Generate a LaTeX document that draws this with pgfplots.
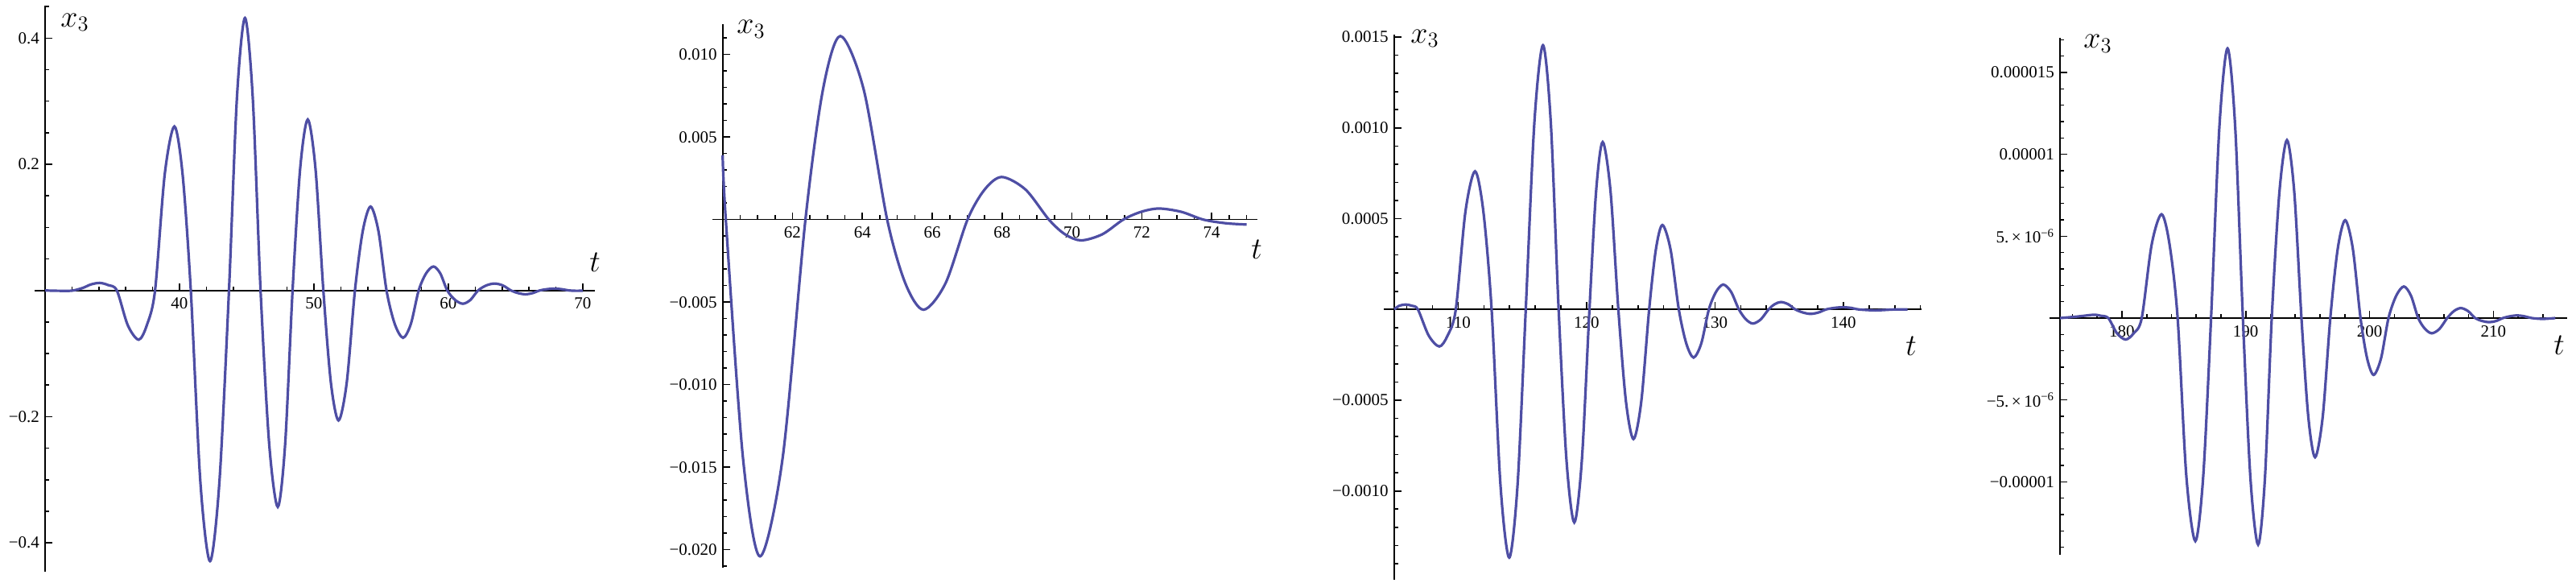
\RequirePackage{fix-cm}
\documentclass[border=0pt]{standalone}
\usepackage{fontspec}
\setmainfont{Liberation Serif}
\usepackage{pgfplots}
\pgfplotsset{compat=1.18}
\definecolor{curve}{RGB}{78,78,164}
\pgfplotsset{
  mstyle/.style={
    scale only axis,
    anchor=south west,
    axis x line=middle,
    axis y line=left,
    axis line style={-, line width=0.8pt, black},
    tick align=inside,
    major tick length=4.5pt,
    minor tick length=2.6pt,
    tick style={black, line width=0.8pt},
    tick label style={font=\fontsize{10.5}{12}\selectfont},
    xticklabel style={yshift=-1pt},
    /pgf/number format/assume math mode=true,
    scaled y ticks=false,
    scaled x ticks=false,
    clip=false,
  },
  cstyle/.style={color=curve, line width=1.6pt, smooth, no marks},
}
\begin{document}
\begin{tikzpicture}
\path[use as bounding box] (0,0) rectangle (1600pt,361.5pt);

% ---------------- Panel 1 ----------------
\begin{axis}[mstyle,
  at={(28pt,6.65pt)}, width=341.5pt, height=351.2pt,
  xmin=30, xmax=70.9, ymin=-0.4454, ymax=0.4511,
  xtick={40,50,60,70},
  minor xtick={32,34,...,70},
  ytick={-0.4,-0.2,0.2,0.4},
  yticklabels={−0.4,−0.2,0.2,0.4},
  minor ytick={-0.4,-0.35,-0.3,-0.25,-0.2,-0.15,-0.1,-0.05,0.05,0.1,0.15,0.2,0.25,0.3,0.35,0.4,0.45},
]
\addplot[cstyle] coordinates {
(30.0,0) (31.0,-0.0005) (32.0,-0.0003) (32.8,0.004) (33.4,0.0095) (34.06,0.012) (34.7,0.0085) (35.34,0)
(36.15,-0.055) (36.96,-0.078) (37.57,-0.055) (38.18,0)
(38.9,0.184) (39.62,0.260) (40.23,0.184) (40.84,0)
(41.55,-0.303) (42.27,-0.429) (42.97,-0.303) (43.68,0)
(44.27,0.305) (44.87,0.432) (45.45,0.305) (46.03,0)
(46.67,-0.243) (47.31,-0.343) (47.86,-0.243) (48.41,0)
(48.97,0.192) (49.54,0.271) (50.12,0.192) (50.70,0)
(51.26,-0.146) (51.83,-0.206) (52.44,-0.146) (53.05,0)
(53.63,0.094) (54.21,0.133) (54.80,0.094) (55.40,0)
(56.01,-0.053) (56.63,-0.075) (57.21,-0.053) (57.79,0)
(58.34,0.027) (58.89,0.038) (59.40,0.027) (59.92,0)
(60.50,-0.015) (61.08,-0.021) (61.64,-0.015) (62.21,0)
(62.82,0.008) (63.44,0.011) (64.05,0.008) (64.66,0)
(65.2,-0.0042) (65.73,-0.006) (66.26,-0.0042) (66.79,0)
(67.32,0.002) (67.86,0.003) (68.43,0.002) (69.0,0)
(69.5,-0.0005) (70.0,-0.0003)
};
\draw[line width=0.8pt] (axis cs:29.22,0) -- (axis cs:30,0);
\end{axis}

% ---------------- Panel 2 ----------------
\begin{axis}[mstyle,
  at={(448.85pt,9pt)}, width=332.15pt, height=337.5pt,
  xmin=60, xmax=75.31, ymin=-0.021088, ymax=0.011839,
  xtick={62,64,66,68,70,72,74},
  minor xtick={60.5,61,...,75},
  ytick={-0.020,-0.015,-0.010,-0.005,0.005,0.010},
  yticklabels={−0.020,−0.015,−0.010,−0.005,0.005,0.010},
  minor ytick={-0.021,-0.020,-0.019,-0.018,-0.017,-0.016,-0.015,-0.014,-0.013,-0.012,-0.011,-0.010,-0.009,-0.008,-0.007,-0.006,-0.005,-0.004,-0.003,-0.002,-0.001,0.001,0.002,0.003,0.004,0.005,0.006,0.007,0.008,0.009,0.010,0.011},
]
\addplot[cstyle] coordinates {
(60.00,0.0039) (60.09,0) (60.58,-0.0144) (61.07,-0.0204) (61.72,-0.0144) (62.37,0)
(62.87,0.00786) (63.37,0.01112) (64.04,0.00786) (64.71,0)
(65.23,-0.00386) (65.75,-0.00546) (66.38,-0.00386) (67.01,0)
(67.50,0.00182) (67.99,0.00258) (68.67,0.00182) (69.34,0)
(69.80,-0.00089) (70.26,-0.00126) (70.87,-0.00089) (71.47,0)
(71.98,0.00047) (72.49,0.00067) (73.13,0.00047) (73.76,0)
(74.4,-0.00022) (75.0,-0.0003)
};
\draw[line width=0.8pt] (axis cs:59.71,0) -- (axis cs:60,0);
\end{axis}

% ---------------- Panel 3 ----------------
\begin{axis}[mstyle,
  at={(865.85pt,1.5pt)}, width=327.45pt, height=338.65pt,
  xmin=105, xmax=146.06, ymin=-0.001489, ymax=0.001515,
  xtick={110,120,130,140},
  minor xtick={106,108,...,146},
  ytick={-0.0010,-0.0005,0.0005,0.0010,0.0015},
  yticklabels={−0.0010,−0.0005,0.0005,0.0010,0.0015},
  minor ytick={-0.0014,-0.0013,-0.0012,-0.0011,-0.0010,-0.0009,-0.0008,-0.0007,-0.0006,-0.0005,-0.0004,-0.0003,-0.0002,-0.0001,0.0001,0.0002,0.0003,0.0004,0.0005,0.0006,0.0007,0.0008,0.0009,0.0010,0.0011,0.0012,0.0013,0.0014,0.0015},
]
\addplot[cstyle] coordinates {
(105.0,0) (105.4,0.00002) (105.9,0.000027) (106.4,0.00002) (106.86,0)
(107.7,-0.000144) (108.53,-0.000204) (109.17,-0.000144) (109.81,0)
(110.56,0.000538) (111.31,0.000761) (111.96,0.000538) (112.60,0)
(113.29,-0.000967) (113.97,-0.001367) (114.62,-0.000967) (115.26,0)
(115.93,0.001029) (116.60,0.001455) (117.21,0.001029) (117.82,0)
(118.43,-0.000829) (119.04,-0.001173) (119.63,-0.000829) (120.22,0)
(120.74,0.000652) (121.25,0.000922) (121.86,0.000652) (122.47,0)
(123.06,-0.000505) (123.65,-0.000714) (124.26,-0.000505) (124.87,0)
(125.39,0.000329) (125.90,0.000465) (126.54,0.000329) (127.18,0)
(127.76,-0.000187) (128.33,-0.000265) (128.93,-0.000187) (129.52,0)
(130.08,0.000097) (130.64,0.000137) (131.25,0.000097) (131.86,0)
(132.41,-0.000055) (132.95,-0.0000776) (133.56,-0.000055) (134.17,0)
(134.65,0.000029) (135.13,0.0000408) (135.69,0.000029) (136.25,0)
(136.85,-0.000017) (137.44,-0.0000245) (138.05,-0.000017) (138.65,0)
(139.3,0.0000085) (139.94,0.000012) (140.6,0.0000085) (141.2,0)
(142.5,-0.000005) (144.0,0) (145.0,0)
};
\draw[line width=0.8pt] (axis cs:104.22,0) -- (axis cs:105,0);
\end{axis}

% ---------------- Panel 4 ----------------
\begin{axis}[mstyle,
  at={(1279.5pt,17pt)}, width=315.15pt, height=321.15pt,
  xmin=175, xmax=215.98, ymin=-1.446e-5, ymax=1.713e-5,
  xtick={180,190,200,210},
  minor xtick={176,178,...,216},
  ytick={-1e-5,-5e-6,5e-6,1e-5,1.5e-5},
  yticklabels={−0.00001,−5.\,×\,10\textsuperscript{−6},5.\,×\,10\textsuperscript{−6},0.00001,0.000015},
  minor ytick={-1.4e-5,-1.3e-5,-1.2e-5,-1.1e-5,-1e-5,-9e-6,-8e-6,-7e-6,-6e-6,-5e-6,-4e-6,-3e-6,-2e-6,-1e-6,1e-6,2e-6,3e-6,4e-6,5e-6,6e-6,7e-6,8e-6,9e-6,1e-5,1.1e-5,1.2e-5,1.3e-5,1.4e-5,1.5e-5,1.6e-5,1.7e-5},
]
\addplot[cstyle] coordinates {
(175,0) (176.5,1e-7) (177.7,2e-7) (178.3,1.4e-7) (178.9,0)
(179.6,-9.3e-7) (180.3,-1.31e-6) (180.95,-9.3e-7) (181.6,0)
(182.4,4.48e-6) (183.2,6.34e-6) (183.85,4.48e-6) (184.5,0)
(185.2,-9.63e-6) (185.93,-1.362e-5) (186.57,-9.63e-6) (187.2,0)
(187.87,1.165e-5) (188.53,1.647e-5) (189.15,1.165e-5) (189.77,0)
(190.38,-9.79e-6) (191.0,-1.384e-5) (191.55,-9.79e-6) (192.1,0)
(192.72,7.69e-6) (193.33,1.087e-5) (193.92,7.69e-6) (194.5,0)
(195.05,-6.01e-6) (195.6,-8.5e-6) (196.22,-6.01e-6) (196.83,0)
(197.43,4.23e-6) (198.03,5.98e-6) (198.65,4.23e-6) (199.27,0)
(199.8,-2.45e-6) (200.33,-3.47e-6) (200.93,-2.45e-6) (201.53,0)
(202.15,1.36e-6) (202.77,1.93e-6) (203.35,1.36e-6) (203.93,0)
(204.48,-6.6e-7) (205.03,-9.3e-7) (205.65,-6.6e-7) (206.27,0)
(206.82,4.3e-7) (207.37,6.1e-7) (207.95,4.3e-7) (208.53,0)
(209.1,-1.8e-7) (209.67,-2.5e-7) (210.22,-1.8e-7) (210.77,0)
(211.35,1.1e-7) (211.93,1.6e-7) (212.5,1.1e-7) (213.1,0)
(214.0,-5e-8) (215.0,0)
};
\draw[line width=0.8pt] (axis cs:174.15,0) -- (axis cs:175,0);
\end{axis}

% axis labels
\begin{scope}[every node/.style={inner sep=0pt, anchor=base west, font=\fontsize{19}{21}\selectfont}]
\node at (37.5pt,344.85pt) {$x_3$};
\node at (457.5pt,340.65pt) {$x_3$};
\node at (876pt,334.85pt) {$x_3$};
\node at (1294pt,331.5pt) {$x_3$};
\node at (366pt,192.5pt) {$t$};
\node at (777pt,200.5pt) {$t$};
\node at (1183.5pt,140.5pt) {$t$};
\node at (1586pt,141pt) {$t$};
\end{scope}
\end{tikzpicture}
\end{document}
